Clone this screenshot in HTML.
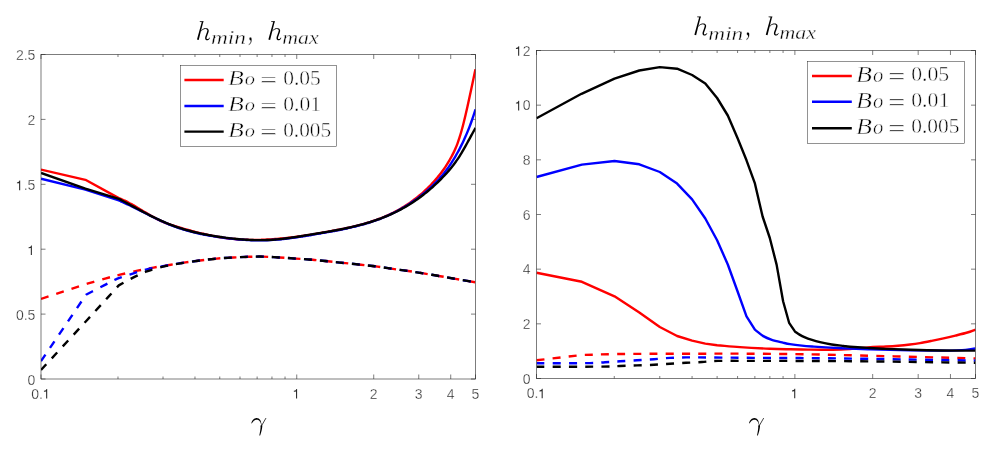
<!DOCTYPE html>
<html><head><meta charset="utf-8"><style>
html,body{margin:0;padding:0;background:#fff;}
body{width:1006px;height:449px;overflow:hidden;font-family:"Liberation Sans",sans-serif;}
svg{display:block;}
svg{will-change:transform;}
</style></head><body>
<svg width="1006" height="449" viewBox="0 0 1006 449">
<rect width="100%" height="100%" fill="#fff"/>
<defs>
<clipPath id="cl"><rect x="41.0" y="53.5" width="434.5" height="326.5"/></clipPath>
<clipPath id="cr"><rect x="536.5" y="49.5" width="439.0" height="330.0"/></clipPath>
</defs>
<line x1="41.0" y1="379.0" x2="41.0" y2="374.5" stroke="#262626" stroke-width="0.6"/>
<line x1="41.0" y1="54.5" x2="41.0" y2="59.0" stroke="#262626" stroke-width="0.6"/>
<line x1="296.74" y1="379.0" x2="296.74" y2="374.5" stroke="#262626" stroke-width="0.6"/>
<line x1="296.74" y1="54.5" x2="296.74" y2="59.0" stroke="#262626" stroke-width="0.6"/>
<line x1="373.73" y1="379.0" x2="373.73" y2="374.5" stroke="#262626" stroke-width="0.6"/>
<line x1="373.73" y1="54.5" x2="373.73" y2="59.0" stroke="#262626" stroke-width="0.6"/>
<line x1="418.76" y1="379.0" x2="418.76" y2="374.5" stroke="#262626" stroke-width="0.6"/>
<line x1="418.76" y1="54.5" x2="418.76" y2="59.0" stroke="#262626" stroke-width="0.6"/>
<line x1="450.72" y1="379.0" x2="450.72" y2="374.5" stroke="#262626" stroke-width="0.6"/>
<line x1="450.72" y1="54.5" x2="450.72" y2="59.0" stroke="#262626" stroke-width="0.6"/>
<line x1="475.5" y1="379.0" x2="475.5" y2="374.5" stroke="#262626" stroke-width="0.6"/>
<line x1="475.5" y1="54.5" x2="475.5" y2="59.0" stroke="#262626" stroke-width="0.6"/>
<line x1="117.99" y1="379.0" x2="117.99" y2="376.5" stroke="#262626" stroke-width="0.6"/>
<line x1="117.99" y1="54.5" x2="117.99" y2="57.0" stroke="#262626" stroke-width="0.6"/>
<line x1="163.02" y1="379.0" x2="163.02" y2="376.5" stroke="#262626" stroke-width="0.6"/>
<line x1="163.02" y1="54.5" x2="163.02" y2="57.0" stroke="#262626" stroke-width="0.6"/>
<line x1="194.97" y1="379.0" x2="194.97" y2="376.5" stroke="#262626" stroke-width="0.6"/>
<line x1="194.97" y1="54.5" x2="194.97" y2="57.0" stroke="#262626" stroke-width="0.6"/>
<line x1="219.76" y1="379.0" x2="219.76" y2="376.5" stroke="#262626" stroke-width="0.6"/>
<line x1="219.76" y1="54.5" x2="219.76" y2="57.0" stroke="#262626" stroke-width="0.6"/>
<line x1="240.01" y1="379.0" x2="240.01" y2="376.5" stroke="#262626" stroke-width="0.6"/>
<line x1="240.01" y1="54.5" x2="240.01" y2="57.0" stroke="#262626" stroke-width="0.6"/>
<line x1="257.13" y1="379.0" x2="257.13" y2="376.5" stroke="#262626" stroke-width="0.6"/>
<line x1="257.13" y1="54.5" x2="257.13" y2="57.0" stroke="#262626" stroke-width="0.6"/>
<line x1="271.96" y1="379.0" x2="271.96" y2="376.5" stroke="#262626" stroke-width="0.6"/>
<line x1="271.96" y1="54.5" x2="271.96" y2="57.0" stroke="#262626" stroke-width="0.6"/>
<line x1="285.04" y1="379.0" x2="285.04" y2="376.5" stroke="#262626" stroke-width="0.6"/>
<line x1="285.04" y1="54.5" x2="285.04" y2="57.0" stroke="#262626" stroke-width="0.6"/>
<line x1="41.0" y1="379.0" x2="45.5" y2="379.0" stroke="#262626" stroke-width="0.6"/>
<line x1="475.5" y1="379.0" x2="471.0" y2="379.0" stroke="#262626" stroke-width="0.6"/>
<line x1="41.0" y1="314.1" x2="45.5" y2="314.1" stroke="#262626" stroke-width="0.6"/>
<line x1="475.5" y1="314.1" x2="471.0" y2="314.1" stroke="#262626" stroke-width="0.6"/>
<line x1="41.0" y1="249.2" x2="45.5" y2="249.2" stroke="#262626" stroke-width="0.6"/>
<line x1="475.5" y1="249.2" x2="471.0" y2="249.2" stroke="#262626" stroke-width="0.6"/>
<line x1="41.0" y1="184.3" x2="45.5" y2="184.3" stroke="#262626" stroke-width="0.6"/>
<line x1="475.5" y1="184.3" x2="471.0" y2="184.3" stroke="#262626" stroke-width="0.6"/>
<line x1="41.0" y1="119.4" x2="45.5" y2="119.4" stroke="#262626" stroke-width="0.6"/>
<line x1="475.5" y1="119.4" x2="471.0" y2="119.4" stroke="#262626" stroke-width="0.6"/>
<line x1="41.0" y1="54.5" x2="45.5" y2="54.5" stroke="#262626" stroke-width="0.6"/>
<line x1="475.5" y1="54.5" x2="471.0" y2="54.5" stroke="#262626" stroke-width="0.6"/>
<line x1="536.5" y1="378.5" x2="536.5" y2="374.0" stroke="#262626" stroke-width="0.6"/>
<line x1="536.5" y1="50.5" x2="536.5" y2="55.0" stroke="#262626" stroke-width="0.6"/>
<line x1="794.89" y1="378.5" x2="794.89" y2="374.0" stroke="#262626" stroke-width="0.6"/>
<line x1="794.89" y1="50.5" x2="794.89" y2="55.0" stroke="#262626" stroke-width="0.6"/>
<line x1="872.68" y1="378.5" x2="872.68" y2="374.0" stroke="#262626" stroke-width="0.6"/>
<line x1="872.68" y1="50.5" x2="872.68" y2="55.0" stroke="#262626" stroke-width="0.6"/>
<line x1="918.18" y1="378.5" x2="918.18" y2="374.0" stroke="#262626" stroke-width="0.6"/>
<line x1="918.18" y1="50.5" x2="918.18" y2="55.0" stroke="#262626" stroke-width="0.6"/>
<line x1="950.46" y1="378.5" x2="950.46" y2="374.0" stroke="#262626" stroke-width="0.6"/>
<line x1="950.46" y1="50.5" x2="950.46" y2="55.0" stroke="#262626" stroke-width="0.6"/>
<line x1="975.5" y1="378.5" x2="975.5" y2="374.0" stroke="#262626" stroke-width="0.6"/>
<line x1="975.5" y1="50.5" x2="975.5" y2="55.0" stroke="#262626" stroke-width="0.6"/>
<line x1="614.28" y1="378.5" x2="614.28" y2="376.0" stroke="#262626" stroke-width="0.6"/>
<line x1="614.28" y1="50.5" x2="614.28" y2="53.0" stroke="#262626" stroke-width="0.6"/>
<line x1="659.78" y1="378.5" x2="659.78" y2="376.0" stroke="#262626" stroke-width="0.6"/>
<line x1="659.78" y1="50.5" x2="659.78" y2="53.0" stroke="#262626" stroke-width="0.6"/>
<line x1="692.07" y1="378.5" x2="692.07" y2="376.0" stroke="#262626" stroke-width="0.6"/>
<line x1="692.07" y1="50.5" x2="692.07" y2="53.0" stroke="#262626" stroke-width="0.6"/>
<line x1="717.11" y1="378.5" x2="717.11" y2="376.0" stroke="#262626" stroke-width="0.6"/>
<line x1="717.11" y1="50.5" x2="717.11" y2="53.0" stroke="#262626" stroke-width="0.6"/>
<line x1="737.57" y1="378.5" x2="737.57" y2="376.0" stroke="#262626" stroke-width="0.6"/>
<line x1="737.57" y1="50.5" x2="737.57" y2="53.0" stroke="#262626" stroke-width="0.6"/>
<line x1="754.87" y1="378.5" x2="754.87" y2="376.0" stroke="#262626" stroke-width="0.6"/>
<line x1="754.87" y1="50.5" x2="754.87" y2="53.0" stroke="#262626" stroke-width="0.6"/>
<line x1="769.85" y1="378.5" x2="769.85" y2="376.0" stroke="#262626" stroke-width="0.6"/>
<line x1="769.85" y1="50.5" x2="769.85" y2="53.0" stroke="#262626" stroke-width="0.6"/>
<line x1="783.07" y1="378.5" x2="783.07" y2="376.0" stroke="#262626" stroke-width="0.6"/>
<line x1="783.07" y1="50.5" x2="783.07" y2="53.0" stroke="#262626" stroke-width="0.6"/>
<line x1="536.5" y1="378.5" x2="541.0" y2="378.5" stroke="#262626" stroke-width="0.6"/>
<line x1="975.5" y1="378.5" x2="971.0" y2="378.5" stroke="#262626" stroke-width="0.6"/>
<line x1="536.5" y1="323.83" x2="541.0" y2="323.83" stroke="#262626" stroke-width="0.6"/>
<line x1="975.5" y1="323.83" x2="971.0" y2="323.83" stroke="#262626" stroke-width="0.6"/>
<line x1="536.5" y1="269.17" x2="541.0" y2="269.17" stroke="#262626" stroke-width="0.6"/>
<line x1="975.5" y1="269.17" x2="971.0" y2="269.17" stroke="#262626" stroke-width="0.6"/>
<line x1="536.5" y1="214.5" x2="541.0" y2="214.5" stroke="#262626" stroke-width="0.6"/>
<line x1="975.5" y1="214.5" x2="971.0" y2="214.5" stroke="#262626" stroke-width="0.6"/>
<line x1="536.5" y1="159.83" x2="541.0" y2="159.83" stroke="#262626" stroke-width="0.6"/>
<line x1="975.5" y1="159.83" x2="971.0" y2="159.83" stroke="#262626" stroke-width="0.6"/>
<line x1="536.5" y1="105.17" x2="541.0" y2="105.17" stroke="#262626" stroke-width="0.6"/>
<line x1="975.5" y1="105.17" x2="971.0" y2="105.17" stroke="#262626" stroke-width="0.6"/>
<line x1="536.5" y1="50.5" x2="541.0" y2="50.5" stroke="#262626" stroke-width="0.6"/>
<line x1="975.5" y1="50.5" x2="971.0" y2="50.5" stroke="#262626" stroke-width="0.6"/>
<path d="M41.00,169.60 L85.40,179.80 L118.80,198.12 C119.47,198.38 120.14,198.63 120.80,198.91 C121.47,199.18 122.14,199.47 122.81,199.77 C123.48,200.07 124.14,200.38 124.81,200.70 C125.48,201.02 126.15,201.35 126.82,201.69 C127.48,202.03 128.15,202.38 128.82,202.73 C129.49,203.09 130.16,203.45 130.82,203.82 C131.49,204.19 132.16,204.57 132.83,204.95 C133.50,205.33 134.16,205.71 134.83,206.10 C135.50,206.49 136.17,206.89 136.84,207.29 C137.50,207.68 138.17,208.08 138.84,208.49 C139.51,208.89 140.18,209.29 140.84,209.70 C141.51,210.10 142.18,210.51 142.85,210.91 C143.52,211.32 144.18,211.72 144.85,212.12 C145.52,212.53 146.19,212.93 146.86,213.33 C147.52,213.73 148.19,214.12 148.86,214.51 C149.53,214.90 150.19,215.29 150.86,215.68 C151.53,216.06 152.20,216.44 152.87,216.81 C153.53,217.18 154.20,217.55 154.87,217.90 C155.54,218.26 156.21,218.61 156.87,218.95 C157.54,219.30 158.21,219.63 158.88,219.96 C159.55,220.28 160.21,220.59 160.88,220.90 C161.55,221.20 162.22,221.50 162.89,221.78 C163.55,222.07 164.22,222.34 164.89,222.61 C165.56,222.88 166.23,223.14 166.89,223.39 C167.56,223.65 168.23,223.89 168.90,224.13 C169.57,224.37 170.23,224.60 170.90,224.83 C171.57,225.06 172.24,225.28 172.91,225.50 C173.57,225.72 174.24,225.93 174.91,226.14 C175.58,226.35 176.25,226.55 176.91,226.76 C177.58,226.96 178.25,227.16 178.92,227.36 C179.59,227.56 180.25,227.76 180.92,227.95 C181.59,228.15 182.26,228.34 182.93,228.54 C183.59,228.73 184.26,228.92 184.93,229.11 C185.60,229.30 186.27,229.49 186.93,229.67 C187.60,229.86 188.27,230.05 188.94,230.23 C189.61,230.41 190.27,230.59 190.94,230.77 C191.61,230.95 192.28,231.13 192.95,231.31 C193.61,231.48 194.28,231.66 194.95,231.83 C195.62,232.00 196.29,232.17 196.95,232.34 C197.62,232.51 198.29,232.67 198.96,232.84 C199.63,233.00 200.29,233.16 200.96,233.32 C201.63,233.48 202.30,233.64 202.97,233.79 C203.63,233.95 204.30,234.10 204.97,234.25 C205.64,234.40 206.31,234.55 206.97,234.69 C207.64,234.84 208.31,234.98 208.98,235.12 C209.64,235.26 210.31,235.39 210.98,235.53 C211.65,235.66 212.32,235.80 212.98,235.92 C213.65,236.05 214.32,236.18 214.99,236.30 C215.66,236.43 216.32,236.55 216.99,236.67 C217.66,236.78 218.33,236.90 219.00,237.01 C219.66,237.12 220.33,237.23 221.00,237.34 C221.67,237.44 222.34,237.54 223.00,237.64 C223.67,237.74 224.34,237.84 225.01,237.93 C225.68,238.02 226.34,238.11 227.01,238.20 C227.68,238.29 228.35,238.37 229.02,238.45 C229.68,238.53 230.35,238.60 231.02,238.67 C231.69,238.75 232.36,238.82 233.02,238.88 C233.69,238.95 234.36,239.01 235.03,239.07 C235.70,239.13 236.36,239.18 237.03,239.23 C237.70,239.29 238.37,239.33 239.04,239.38 C239.70,239.42 240.37,239.47 241.04,239.51 C241.71,239.55 242.38,239.58 243.04,239.61 C243.71,239.65 244.38,239.68 245.05,239.70 C245.72,239.73 246.38,239.75 247.05,239.77 C247.72,239.80 248.39,239.81 249.06,239.83 C249.72,239.84 250.39,239.85 251.06,239.86 C251.73,239.87 252.40,239.88 253.06,239.88 C253.73,239.88 254.40,239.89 255.07,239.88 C255.74,239.88 256.40,239.88 257.07,239.87 C257.74,239.86 258.41,239.85 259.08,239.84 C259.74,239.82 260.41,239.81 261.08,239.79 C261.75,239.77 262.42,239.75 263.08,239.73 C263.75,239.71 264.42,239.68 265.09,239.65 C265.76,239.62 266.42,239.59 267.09,239.56 C267.76,239.53 268.43,239.49 269.09,239.46 C269.76,239.42 270.43,239.38 271.10,239.34 C271.77,239.29 272.43,239.25 273.10,239.20 C273.77,239.16 274.44,239.11 275.11,239.06 C275.77,239.01 276.44,238.95 277.11,238.90 C277.78,238.84 278.45,238.78 279.11,238.73 C279.78,238.67 280.45,238.61 281.12,238.54 C281.79,238.48 282.45,238.41 283.12,238.35 C283.79,238.28 284.46,238.21 285.13,238.14 C285.79,238.07 286.46,238.00 287.13,237.92 C287.80,237.85 288.47,237.77 289.13,237.70 C289.80,237.62 290.47,237.54 291.14,237.46 C291.81,237.38 292.47,237.29 293.14,237.21 C293.81,237.12 294.48,237.04 295.15,236.95 C295.81,236.86 296.48,236.77 297.15,236.68 C297.82,236.59 298.49,236.50 299.15,236.41 C299.82,236.32 300.49,236.22 301.16,236.13 C301.83,236.03 302.49,235.93 303.16,235.83 C303.83,235.73 304.50,235.63 305.17,235.53 C305.83,235.43 306.50,235.33 307.17,235.23 C307.84,235.12 308.51,235.02 309.17,234.91 C309.84,234.81 310.51,234.70 311.18,234.59 C311.85,234.49 312.51,234.38 313.18,234.27 C313.85,234.16 314.52,234.05 315.19,233.93 C315.85,233.82 316.52,233.71 317.19,233.60 C317.86,233.48 318.53,233.37 319.19,233.25 C319.86,233.14 320.53,233.02 321.20,232.91 C321.87,232.79 322.53,232.67 323.20,232.55 C323.87,232.44 324.54,232.32 325.21,232.20 C325.87,232.08 326.54,231.96 327.21,231.84 C327.88,231.72 328.54,231.60 329.21,231.48 C329.88,231.35 330.55,231.23 331.22,231.11 C331.88,230.99 332.55,230.86 333.22,230.74 C333.89,230.62 334.56,230.49 335.22,230.37 C335.89,230.24 336.56,230.12 337.23,229.99 C337.90,229.86 338.56,229.73 339.23,229.60 C339.90,229.47 340.57,229.34 341.24,229.21 C341.90,229.08 342.57,228.94 343.24,228.81 C343.91,228.67 344.58,228.53 345.24,228.39 C345.91,228.25 346.58,228.11 347.25,227.97 C347.92,227.83 348.58,227.68 349.25,227.53 C349.92,227.39 350.59,227.24 351.26,227.09 C351.92,226.93 352.59,226.78 353.26,226.62 C353.93,226.47 354.60,226.31 355.26,226.15 C355.93,225.98 356.60,225.82 357.27,225.65 C357.94,225.48 358.60,225.31 359.27,225.14 C359.94,224.97 360.61,224.79 361.28,224.61 C361.94,224.43 362.61,224.25 363.28,224.06 C363.95,223.87 364.62,223.68 365.28,223.49 C365.95,223.30 366.62,223.10 367.29,222.90 C367.96,222.70 368.62,222.49 369.29,222.28 C369.96,222.07 370.63,221.86 371.30,221.64 C371.96,221.43 372.63,221.21 373.30,220.98 C373.97,220.75 374.64,220.52 375.30,220.29 C375.97,220.06 376.64,219.82 377.31,219.57 C377.98,219.33 378.64,219.08 379.31,218.83 C379.98,218.57 380.65,218.32 381.32,218.05 C381.98,217.79 382.65,217.52 383.32,217.25 C383.99,216.97 384.66,216.69 385.32,216.41 C385.99,216.12 386.66,215.83 387.33,215.54 C387.99,215.24 388.66,214.94 389.33,214.63 C390.00,214.32 390.67,214.01 391.33,213.68 C392.00,213.36 392.67,213.03 393.34,212.70 C394.01,212.36 394.67,212.02 395.34,211.67 C396.01,211.33 396.68,210.97 397.35,210.61 C398.01,210.24 398.68,209.87 399.35,209.49 C400.02,209.11 400.69,208.73 401.35,208.33 C402.02,207.94 402.69,207.54 403.36,207.13 C404.03,206.72 404.69,206.30 405.36,205.87 C406.03,205.44 406.70,205.01 407.37,204.56 C408.03,204.12 408.70,203.67 409.37,203.20 C410.04,202.74 410.71,202.27 411.37,201.79 C412.04,201.31 412.71,200.82 413.38,200.32 C414.05,199.82 414.71,199.31 415.38,198.79 C416.05,198.27 416.72,197.74 417.39,197.20 C418.05,196.66 418.72,196.11 419.39,195.55 C420.06,194.99 420.73,194.42 421.39,193.83 C422.06,193.25 422.73,192.66 423.40,192.06 C424.07,191.45 424.73,190.84 425.40,190.21 C426.07,189.58 426.74,188.95 427.41,188.30 C428.07,187.65 428.74,186.99 429.41,186.31 C430.08,185.64 430.75,184.96 431.41,184.26 C432.08,183.56 432.75,182.85 433.42,182.13 C434.09,181.40 434.75,180.66 435.42,179.90 C436.09,179.14 436.76,178.37 437.43,177.57 C438.09,176.77 438.76,175.95 439.43,175.10 C440.10,174.26 440.77,173.39 441.43,172.50 C442.10,171.60 442.77,170.68 443.44,169.73 C444.11,168.78 444.77,167.80 445.44,166.79 C446.11,165.78 446.78,164.74 447.44,163.66 C448.11,162.57 448.78,161.46 449.45,160.31 C450.12,159.16 450.78,157.98 451.45,156.74 C452.12,155.50 452.79,154.24 453.46,152.87 C454.12,151.50 454.79,150.09 455.46,148.53 C456.13,146.98 456.80,145.35 457.46,143.55 C458.13,141.75 458.80,139.82 459.47,137.73 C460.14,135.64 460.80,133.38 461.47,131.01 C462.14,128.63 462.81,126.11 463.48,123.49 C464.14,120.87 464.81,118.11 465.48,115.29 C466.15,112.46 466.82,109.52 467.48,106.53 C468.15,103.54 468.82,100.45 469.49,97.35 C470.16,94.25 470.82,91.08 471.49,87.93 C472.16,84.78 472.83,81.60 473.50,78.47 C474.16,75.34 474.83,72.27 475.50,69.17" fill="none" stroke="#ff0000" stroke-width="2.4" stroke-linejoin="round" stroke-linecap="butt" clip-path="url(#cl)"/>
<path d="M41.00,178.70 L85.40,189.70 L118.80,200.46 C119.47,200.75 120.14,201.03 120.80,201.33 C121.47,201.62 122.14,201.92 122.81,202.22 C123.48,202.52 124.14,202.82 124.81,203.13 C125.48,203.44 126.15,203.75 126.82,204.06 C127.48,204.38 128.15,204.69 128.82,205.01 C129.49,205.33 130.16,205.65 130.82,205.98 C131.49,206.30 132.16,206.63 132.83,206.96 C133.50,207.29 134.16,207.62 134.83,207.95 C135.50,208.28 136.17,208.61 136.84,208.95 C137.50,209.28 138.17,209.62 138.84,209.95 C139.51,210.29 140.18,210.63 140.84,210.97 C141.51,211.30 142.18,211.64 142.85,211.98 C143.52,212.31 144.18,212.65 144.85,212.99 C145.52,213.33 146.19,213.66 146.86,214.00 C147.52,214.33 148.19,214.67 148.86,215.00 C149.53,215.34 150.19,215.67 150.86,216.00 C151.53,216.33 152.20,216.66 152.87,216.99 C153.53,217.32 154.20,217.64 154.87,217.97 C155.54,218.29 156.21,218.61 156.87,218.93 C157.54,219.25 158.21,219.56 158.88,219.88 C159.55,220.19 160.21,220.50 160.88,220.81 C161.55,221.11 162.22,221.42 162.89,221.71 C163.55,222.01 164.22,222.31 164.89,222.60 C165.56,222.89 166.23,223.18 166.89,223.46 C167.56,223.74 168.23,224.02 168.90,224.29 C169.57,224.57 170.23,224.83 170.90,225.10 C171.57,225.36 172.24,225.62 172.91,225.87 C173.57,226.12 174.24,226.37 174.91,226.61 C175.58,226.86 176.25,227.10 176.91,227.33 C177.58,227.56 178.25,227.79 178.92,228.02 C179.59,228.24 180.25,228.46 180.92,228.68 C181.59,228.89 182.26,229.10 182.93,229.31 C183.59,229.52 184.26,229.72 184.93,229.92 C185.60,230.12 186.27,230.31 186.93,230.50 C187.60,230.69 188.27,230.88 188.94,231.06 C189.61,231.24 190.27,231.42 190.94,231.59 C191.61,231.77 192.28,231.94 192.95,232.11 C193.61,232.28 194.28,232.44 194.95,232.60 C195.62,232.76 196.29,232.92 196.95,233.07 C197.62,233.23 198.29,233.38 198.96,233.52 C199.63,233.67 200.29,233.81 200.96,233.96 C201.63,234.10 202.30,234.23 202.97,234.37 C203.63,234.50 204.30,234.64 204.97,234.77 C205.64,234.90 206.31,235.02 206.97,235.15 C207.64,235.27 208.31,235.39 208.98,235.51 C209.64,235.63 210.31,235.75 210.98,235.86 C211.65,235.97 212.32,236.08 212.98,236.19 C213.65,236.30 214.32,236.41 214.99,236.52 C215.66,236.62 216.32,236.72 216.99,236.82 C217.66,236.93 218.33,237.02 219.00,237.12 C219.66,237.22 220.33,237.31 221.00,237.41 C221.67,237.50 222.34,237.59 223.00,237.68 C223.67,237.77 224.34,237.86 225.01,237.95 C225.68,238.03 226.34,238.12 227.01,238.20 C227.68,238.28 228.35,238.36 229.02,238.44 C229.68,238.52 230.35,238.59 231.02,238.67 C231.69,238.74 232.36,238.81 233.02,238.88 C233.69,238.95 234.36,239.02 235.03,239.08 C235.70,239.15 236.36,239.21 237.03,239.27 C237.70,239.33 238.37,239.39 239.04,239.45 C239.70,239.50 240.37,239.56 241.04,239.61 C241.71,239.66 242.38,239.71 243.04,239.75 C243.71,239.80 244.38,239.84 245.05,239.88 C245.72,239.93 246.38,239.96 247.05,240.00 C247.72,240.04 248.39,240.07 249.06,240.10 C249.72,240.13 250.39,240.16 251.06,240.18 C251.73,240.21 252.40,240.23 253.06,240.25 C253.73,240.27 254.40,240.28 255.07,240.30 C255.74,240.31 256.40,240.32 257.07,240.33 C257.74,240.34 258.41,240.34 259.08,240.34 C259.74,240.35 260.41,240.34 261.08,240.34 C261.75,240.34 262.42,240.33 263.08,240.32 C263.75,240.31 264.42,240.29 265.09,240.28 C265.76,240.26 266.42,240.24 267.09,240.22 C267.76,240.19 268.43,240.17 269.09,240.14 C269.76,240.11 270.43,240.07 271.10,240.03 C271.77,240.00 272.43,239.96 273.10,239.91 C273.77,239.87 274.44,239.82 275.11,239.77 C275.77,239.73 276.44,239.67 277.11,239.62 C277.78,239.56 278.45,239.50 279.11,239.44 C279.78,239.38 280.45,239.32 281.12,239.25 C281.79,239.18 282.45,239.11 283.12,239.04 C283.79,238.97 284.46,238.90 285.13,238.82 C285.79,238.74 286.46,238.67 287.13,238.58 C287.80,238.50 288.47,238.42 289.13,238.34 C289.80,238.25 290.47,238.16 291.14,238.07 C291.81,237.98 292.47,237.89 293.14,237.80 C293.81,237.71 294.48,237.61 295.15,237.52 C295.81,237.42 296.48,237.32 297.15,237.22 C297.82,237.12 298.49,237.02 299.15,236.92 C299.82,236.82 300.49,236.71 301.16,236.61 C301.83,236.50 302.49,236.40 303.16,236.29 C303.83,236.18 304.50,236.07 305.17,235.96 C305.83,235.85 306.50,235.74 307.17,235.63 C307.84,235.52 308.51,235.41 309.17,235.29 C309.84,235.18 310.51,235.07 311.18,234.95 C311.85,234.84 312.51,234.72 313.18,234.61 C313.85,234.49 314.52,234.38 315.19,234.26 C315.85,234.15 316.52,234.03 317.19,233.91 C317.86,233.80 318.53,233.68 319.19,233.57 C319.86,233.45 320.53,233.33 321.20,233.22 C321.87,233.10 322.53,232.98 323.20,232.87 C323.87,232.75 324.54,232.63 325.21,232.52 C325.87,232.40 326.54,232.28 327.21,232.16 C327.88,232.05 328.54,231.93 329.21,231.81 C329.88,231.69 330.55,231.57 331.22,231.45 C331.88,231.33 332.55,231.21 333.22,231.08 C333.89,230.96 334.56,230.84 335.22,230.71 C335.89,230.59 336.56,230.46 337.23,230.33 C337.90,230.21 338.56,230.08 339.23,229.95 C339.90,229.82 340.57,229.69 341.24,229.55 C341.90,229.42 342.57,229.28 343.24,229.15 C343.91,229.01 344.58,228.87 345.24,228.73 C345.91,228.59 346.58,228.45 347.25,228.30 C347.92,228.16 348.58,228.01 349.25,227.86 C349.92,227.71 350.59,227.56 351.26,227.41 C351.92,227.26 352.59,227.10 353.26,226.94 C353.93,226.78 354.60,226.62 355.26,226.46 C355.93,226.29 356.60,226.12 357.27,225.95 C357.94,225.78 358.60,225.61 359.27,225.44 C359.94,225.26 360.61,225.08 361.28,224.90 C361.94,224.72 362.61,224.53 363.28,224.34 C363.95,224.15 364.62,223.96 365.28,223.76 C365.95,223.57 366.62,223.37 367.29,223.17 C367.96,222.96 368.62,222.76 369.29,222.54 C369.96,222.33 370.63,222.12 371.30,221.90 C371.96,221.68 372.63,221.46 373.30,221.23 C373.97,221.00 374.64,220.77 375.30,220.54 C375.97,220.30 376.64,220.06 377.31,219.82 C377.98,219.57 378.64,219.32 379.31,219.07 C379.98,218.81 380.65,218.56 381.32,218.29 C381.98,218.03 382.65,217.76 383.32,217.49 C383.99,217.21 384.66,216.94 385.32,216.65 C385.99,216.37 386.66,216.08 387.33,215.79 C387.99,215.49 388.66,215.19 389.33,214.89 C390.00,214.58 390.67,214.27 391.33,213.96 C392.00,213.64 392.67,213.32 393.34,212.99 C394.01,212.66 394.67,212.33 395.34,211.99 C396.01,211.65 396.68,211.31 397.35,210.95 C398.01,210.60 398.68,210.25 399.35,209.88 C400.02,209.52 400.69,209.15 401.35,208.77 C402.02,208.39 402.69,208.01 403.36,207.62 C404.03,207.23 404.69,206.84 405.36,206.43 C406.03,206.03 406.70,205.62 407.37,205.20 C408.03,204.79 408.70,204.36 409.37,203.93 C410.04,203.50 410.71,203.06 411.37,202.62 C412.04,202.17 412.71,201.72 413.38,201.26 C414.05,200.80 414.71,200.33 415.38,199.86 C416.05,199.38 416.72,198.90 417.39,198.41 C418.05,197.92 418.72,197.42 419.39,196.91 C420.06,196.41 420.73,195.89 421.39,195.37 C422.06,194.85 422.73,194.32 423.40,193.78 C424.07,193.24 424.73,192.70 425.40,192.14 C426.07,191.59 426.74,191.02 427.41,190.45 C428.07,189.87 428.74,189.29 429.41,188.69 C430.08,188.09 430.75,187.49 431.41,186.86 C432.08,186.24 432.75,185.61 433.42,184.96 C434.09,184.31 434.75,183.65 435.42,182.96 C436.09,182.28 436.76,181.59 437.43,180.87 C438.09,180.16 438.76,179.43 439.43,178.68 C440.10,177.93 440.77,177.16 441.43,176.37 C442.10,175.58 442.77,174.77 443.44,173.94 C444.11,173.11 444.77,172.25 445.44,171.38 C446.11,170.50 446.78,169.60 447.44,168.68 C448.11,167.75 448.78,166.80 449.45,165.83 C450.12,164.85 450.78,163.85 451.45,162.82 C452.12,161.79 452.79,160.74 453.46,159.65 C454.12,158.57 454.79,157.46 455.46,156.31 C456.13,155.17 456.80,153.99 457.46,152.79 C458.13,151.58 458.80,150.35 459.47,149.07 C460.14,147.80 460.80,146.50 461.47,145.16 C462.14,143.81 462.81,142.44 463.48,141.01 C464.14,139.59 464.81,138.12 465.48,136.60 C466.15,135.08 466.82,133.52 467.48,131.90 C468.15,130.27 468.82,128.60 469.49,126.86 C470.16,125.12 470.82,123.33 471.49,121.47 C472.16,119.60 472.83,117.68 473.50,115.67 C474.16,113.67 474.83,111.52 475.50,109.45" fill="none" stroke="#0000ff" stroke-width="2.4" stroke-linejoin="round" stroke-linecap="butt" clip-path="url(#cl)"/>
<path d="M41.00,173.00 L85.40,188.70 L118.80,198.84 C119.47,199.19 120.14,199.54 120.80,199.90 C121.47,200.25 122.14,200.60 122.81,200.96 C123.48,201.32 124.14,201.67 124.81,202.03 C125.48,202.39 126.15,202.74 126.82,203.10 C127.48,203.46 128.15,203.82 128.82,204.18 C129.49,204.54 130.16,204.90 130.82,205.26 C131.49,205.62 132.16,205.98 132.83,206.34 C133.50,206.70 134.16,207.06 134.83,207.42 C135.50,207.78 136.17,208.14 136.84,208.49 C137.50,208.85 138.17,209.21 138.84,209.56 C139.51,209.92 140.18,210.28 140.84,210.63 C141.51,210.98 142.18,211.34 142.85,211.69 C143.52,212.04 144.18,212.39 144.85,212.74 C145.52,213.08 146.19,213.43 146.86,213.77 C147.52,214.12 148.19,214.46 148.86,214.80 C149.53,215.14 150.19,215.48 150.86,215.81 C151.53,216.15 152.20,216.48 152.87,216.81 C153.53,217.14 154.20,217.46 154.87,217.79 C155.54,218.11 156.21,218.43 156.87,218.75 C157.54,219.07 158.21,219.38 158.88,219.69 C159.55,220.00 160.21,220.31 160.88,220.61 C161.55,220.91 162.22,221.21 162.89,221.51 C163.55,221.80 164.22,222.10 164.89,222.38 C165.56,222.67 166.23,222.95 166.89,223.23 C167.56,223.51 168.23,223.78 168.90,224.05 C169.57,224.31 170.23,224.58 170.90,224.84 C171.57,225.09 172.24,225.35 172.91,225.60 C173.57,225.84 174.24,226.09 174.91,226.33 C175.58,226.57 176.25,226.80 176.91,227.03 C177.58,227.26 178.25,227.49 178.92,227.71 C179.59,227.93 180.25,228.14 180.92,228.36 C181.59,228.57 182.26,228.78 182.93,228.98 C183.59,229.18 184.26,229.38 184.93,229.58 C185.60,229.77 186.27,229.97 186.93,230.15 C187.60,230.34 188.27,230.52 188.94,230.71 C189.61,230.89 190.27,231.06 190.94,231.23 C191.61,231.41 192.28,231.58 192.95,231.74 C193.61,231.91 194.28,232.07 194.95,232.23 C195.62,232.39 196.29,232.55 196.95,232.70 C197.62,232.85 198.29,233.00 198.96,233.15 C199.63,233.29 200.29,233.44 200.96,233.58 C201.63,233.72 202.30,233.86 202.97,233.99 C203.63,234.13 204.30,234.26 204.97,234.39 C205.64,234.52 206.31,234.64 206.97,234.77 C207.64,234.89 208.31,235.01 208.98,235.13 C209.64,235.25 210.31,235.37 210.98,235.49 C211.65,235.60 212.32,235.71 212.98,235.82 C213.65,235.93 214.32,236.04 214.99,236.15 C215.66,236.26 216.32,236.36 216.99,236.46 C217.66,236.57 218.33,236.67 219.00,236.77 C219.66,236.87 220.33,236.97 221.00,237.06 C221.67,237.16 222.34,237.25 223.00,237.35 C223.67,237.44 224.34,237.53 225.01,237.62 C225.68,237.71 226.34,237.80 227.01,237.88 C227.68,237.97 228.35,238.05 229.02,238.13 C229.68,238.22 230.35,238.30 231.02,238.37 C231.69,238.45 232.36,238.53 233.02,238.60 C233.69,238.67 234.36,238.75 235.03,238.81 C235.70,238.88 236.36,238.95 237.03,239.02 C237.70,239.08 238.37,239.14 239.04,239.20 C239.70,239.26 240.37,239.32 241.04,239.37 C241.71,239.43 242.38,239.48 243.04,239.53 C243.71,239.58 244.38,239.63 245.05,239.67 C245.72,239.71 246.38,239.76 247.05,239.79 C247.72,239.83 248.39,239.87 249.06,239.90 C249.72,239.94 250.39,239.97 251.06,239.99 C251.73,240.02 252.40,240.04 253.06,240.07 C253.73,240.09 254.40,240.10 255.07,240.12 C255.74,240.13 256.40,240.15 257.07,240.15 C257.74,240.16 258.41,240.17 259.08,240.17 C259.74,240.17 260.41,240.17 261.08,240.17 C261.75,240.16 262.42,240.15 263.08,240.14 C263.75,240.13 264.42,240.11 265.09,240.10 C265.76,240.08 266.42,240.05 267.09,240.03 C267.76,240.00 268.43,239.97 269.09,239.94 C269.76,239.91 270.43,239.87 271.10,239.83 C271.77,239.79 272.43,239.74 273.10,239.69 C273.77,239.64 274.44,239.59 275.11,239.54 C275.77,239.48 276.44,239.42 277.11,239.36 C277.78,239.30 278.45,239.24 279.11,239.17 C279.78,239.10 280.45,239.03 281.12,238.96 C281.79,238.88 282.45,238.81 283.12,238.73 C283.79,238.65 284.46,238.57 285.13,238.49 C285.79,238.40 286.46,238.32 287.13,238.23 C287.80,238.14 288.47,238.05 289.13,237.96 C289.80,237.87 290.47,237.77 291.14,237.68 C291.81,237.58 292.47,237.49 293.14,237.39 C293.81,237.29 294.48,237.19 295.15,237.09 C295.81,236.99 296.48,236.88 297.15,236.78 C297.82,236.68 298.49,236.57 299.15,236.47 C299.82,236.36 300.49,236.25 301.16,236.15 C301.83,236.04 302.49,235.93 303.16,235.82 C303.83,235.71 304.50,235.61 305.17,235.50 C305.83,235.39 306.50,235.28 307.17,235.17 C307.84,235.06 308.51,234.95 309.17,234.84 C309.84,234.73 310.51,234.62 311.18,234.51 C311.85,234.40 312.51,234.29 313.18,234.18 C313.85,234.07 314.52,233.96 315.19,233.85 C315.85,233.74 316.52,233.63 317.19,233.52 C317.86,233.41 318.53,233.30 319.19,233.19 C319.86,233.08 320.53,232.97 321.20,232.86 C321.87,232.75 322.53,232.64 323.20,232.52 C323.87,232.41 324.54,232.30 325.21,232.18 C325.87,232.07 326.54,231.96 327.21,231.84 C327.88,231.72 328.54,231.61 329.21,231.49 C329.88,231.37 330.55,231.26 331.22,231.14 C331.88,231.02 332.55,230.90 333.22,230.78 C333.89,230.65 334.56,230.53 335.22,230.41 C335.89,230.28 336.56,230.16 337.23,230.03 C337.90,229.90 338.56,229.78 339.23,229.65 C339.90,229.52 340.57,229.39 341.24,229.25 C341.90,229.12 342.57,228.99 343.24,228.85 C343.91,228.71 344.58,228.57 345.24,228.43 C345.91,228.29 346.58,228.15 347.25,228.01 C347.92,227.86 348.58,227.72 349.25,227.57 C349.92,227.42 350.59,227.27 351.26,227.12 C351.92,226.96 352.59,226.81 353.26,226.65 C353.93,226.49 354.60,226.33 355.26,226.17 C355.93,226.01 356.60,225.85 357.27,225.68 C357.94,225.51 358.60,225.34 359.27,225.17 C359.94,224.99 360.61,224.82 361.28,224.64 C361.94,224.46 362.61,224.28 363.28,224.10 C363.95,223.91 364.62,223.72 365.28,223.53 C365.95,223.34 366.62,223.15 367.29,222.95 C367.96,222.75 368.62,222.55 369.29,222.35 C369.96,222.15 370.63,221.94 371.30,221.73 C371.96,221.51 372.63,221.30 373.30,221.08 C373.97,220.86 374.64,220.64 375.30,220.41 C375.97,220.18 376.64,219.95 377.31,219.72 C377.98,219.48 378.64,219.24 379.31,219.00 C379.98,218.75 380.65,218.51 381.32,218.25 C381.98,218.00 382.65,217.74 383.32,217.48 C383.99,217.22 384.66,216.95 385.32,216.68 C385.99,216.41 386.66,216.13 387.33,215.85 C387.99,215.57 388.66,215.28 389.33,214.99 C390.00,214.69 390.67,214.40 391.33,214.09 C392.00,213.79 392.67,213.48 393.34,213.17 C394.01,212.86 394.67,212.54 395.34,212.21 C396.01,211.89 396.68,211.56 397.35,211.22 C398.01,210.88 398.68,210.54 399.35,210.19 C400.02,209.84 400.69,209.49 401.35,209.13 C402.02,208.77 402.69,208.40 403.36,208.03 C404.03,207.65 404.69,207.27 405.36,206.89 C406.03,206.50 406.70,206.11 407.37,205.71 C408.03,205.31 408.70,204.90 409.37,204.49 C410.04,204.07 410.71,203.65 411.37,203.23 C412.04,202.80 412.71,202.36 413.38,201.92 C414.05,201.48 414.71,201.03 415.38,200.58 C416.05,200.12 416.72,199.66 417.39,199.18 C418.05,198.71 418.72,198.23 419.39,197.75 C420.06,197.26 420.73,196.77 421.39,196.26 C422.06,195.76 422.73,195.25 423.40,194.73 C424.07,194.21 424.73,193.69 425.40,193.15 C426.07,192.62 426.74,192.07 427.41,191.52 C428.07,190.97 428.74,190.41 429.41,189.84 C430.08,189.27 430.75,188.69 431.41,188.10 C432.08,187.52 432.75,186.92 433.42,186.31 C434.09,185.71 434.75,185.09 435.42,184.47 C436.09,183.85 436.76,183.21 437.43,182.57 C438.09,181.93 438.76,181.27 439.43,180.61 C440.10,179.95 440.77,179.28 441.43,178.60 C442.10,177.92 442.77,177.22 443.44,176.52 C444.11,175.82 444.77,175.11 445.44,174.39 C446.11,173.66 446.78,172.93 447.44,172.18 C448.11,171.42 448.78,170.66 449.45,169.88 C450.12,169.09 450.78,168.29 451.45,167.46 C452.12,166.64 452.79,165.79 453.46,164.92 C454.12,164.04 454.79,163.15 455.46,162.22 C456.13,161.29 456.80,160.34 457.46,159.35 C458.13,158.36 458.80,157.35 459.47,156.29 C460.14,155.24 460.80,154.15 461.47,153.05 C462.14,151.94 462.81,150.80 463.48,149.64 C464.14,148.48 464.81,147.30 465.48,146.11 C466.15,144.92 466.82,143.71 467.48,142.50 C468.15,141.28 468.82,140.05 469.49,138.83 C470.16,137.60 470.82,136.37 471.49,135.15 C472.16,133.93 472.83,132.70 473.50,131.50 C474.16,130.30 474.83,129.13 475.50,127.94" fill="none" stroke="#000000" stroke-width="2.4" stroke-linejoin="round" stroke-linecap="butt" clip-path="url(#cl)"/>
<path d="M41.00,298.90 L87.30,283.70 C93.53,281.90 100.53,279.80 106.00,278.30 C111.47,276.80 114.85,275.97 120.10,274.70 C125.35,273.43 131.93,271.88 137.50,270.70 C143.07,269.52 147.93,268.60 153.50,267.60 C159.07,266.60 165.55,265.57 170.90,264.70 C176.25,263.83 180.75,263.10 185.60,262.40 C190.45,261.70 194.82,261.13 200.00,260.50 C205.18,259.87 211.13,259.10 216.70,258.60 C222.27,258.10 228.07,257.80 233.40,257.50 C238.73,257.20 243.83,256.95 248.70,256.80 C253.57,256.65 257.50,256.48 262.60,256.60 C267.70,256.72 273.73,257.17 279.30,257.50 C284.87,257.83 290.43,258.22 296.00,258.60 C301.57,258.98 307.37,259.35 312.70,259.80 C318.03,260.25 323.45,260.83 328.00,261.30 C332.55,261.77 334.52,262.03 340.00,262.60 C345.48,263.17 354.63,264.03 360.90,264.70 C367.17,265.37 372.27,265.90 377.60,266.60 C382.93,267.30 387.80,268.17 392.90,268.90 C398.00,269.63 403.10,270.25 408.20,271.00 C413.30,271.75 418.17,272.53 423.50,273.40 C428.83,274.27 434.87,275.28 440.20,276.20 C445.53,277.12 449.62,277.88 455.50,278.90 C461.38,279.92 468.83,281.17 475.50,282.30" fill="none" stroke="#ff0000" stroke-width="2.4" stroke-linejoin="round" stroke-linecap="butt" stroke-dasharray="7.92 8.12" stroke-dashoffset="0.0" clip-path="url(#cl)"/>
<path d="M41.00,361.20 L86.00,294.80 C92.00,291.67 98.77,288.08 104.00,285.40 C109.23,282.72 112.72,280.63 117.40,278.70 C122.08,276.77 127.20,275.35 132.10,273.80 C137.00,272.25 141.67,270.65 146.80,269.40 C151.93,268.15 157.33,267.33 162.90,266.30 C168.47,265.27 174.02,264.17 180.20,263.20 C186.38,262.23 193.92,261.27 200.00,260.50 C206.08,259.73 211.13,259.10 216.70,258.60 C222.27,258.10 228.07,257.80 233.40,257.50 C238.73,257.20 243.83,256.95 248.70,256.80 C253.57,256.65 257.50,256.48 262.60,256.60 C267.70,256.72 273.73,257.17 279.30,257.50 C284.87,257.83 290.43,258.22 296.00,258.60 C301.57,258.98 307.37,259.35 312.70,259.80 C318.03,260.25 323.45,260.83 328.00,261.30 C332.55,261.77 334.52,262.03 340.00,262.60 C345.48,263.17 354.63,264.03 360.90,264.70 C367.17,265.37 372.27,265.90 377.60,266.60 C382.93,267.30 387.80,268.17 392.90,268.90 C398.00,269.63 403.10,270.25 408.20,271.00 C413.30,271.75 418.17,272.53 423.50,273.40 C428.83,274.27 434.87,275.28 440.20,276.20 C445.53,277.12 449.62,277.88 455.50,278.90 C461.38,279.92 468.83,281.17 475.50,282.30" fill="none" stroke="#0000ff" stroke-width="2.4" stroke-linejoin="round" stroke-linecap="butt" stroke-dasharray="7.92 8.12" stroke-dashoffset="0.0" clip-path="url(#cl)"/>
<path d="M41.00,370.00 C56.00,353.73 73.03,335.30 86.00,321.20 C98.97,307.10 107.87,297.33 118.80,285.40 C123.70,282.73 128.83,279.73 133.50,277.40 C138.17,275.07 141.90,273.18 146.80,271.40 C151.70,269.62 157.33,268.03 162.90,266.70 C168.47,265.37 174.02,264.43 180.20,263.40 C186.38,262.37 193.92,261.30 200.00,260.50 C206.08,259.70 211.13,259.10 216.70,258.60 C222.27,258.10 228.07,257.80 233.40,257.50 C238.73,257.20 243.83,256.95 248.70,256.80 C253.57,256.65 257.50,256.48 262.60,256.60 C267.70,256.72 273.73,257.17 279.30,257.50 C284.87,257.83 290.43,258.22 296.00,258.60 C301.57,258.98 307.37,259.35 312.70,259.80 C318.03,260.25 323.45,260.83 328.00,261.30 C332.55,261.77 334.52,262.03 340.00,262.60 C345.48,263.17 354.63,264.03 360.90,264.70 C367.17,265.37 372.27,265.90 377.60,266.60 C382.93,267.30 387.80,268.17 392.90,268.90 C398.00,269.63 403.10,270.25 408.20,271.00 C413.30,271.75 418.17,272.53 423.50,273.40 C428.83,274.27 434.87,275.28 440.20,276.20 C445.53,277.12 449.62,277.88 455.50,278.90 C461.38,279.92 468.83,281.17 475.50,282.30" fill="none" stroke="#000000" stroke-width="2.4" stroke-linejoin="round" stroke-linecap="butt" stroke-dasharray="7.92 8.12" stroke-dashoffset="0.0" clip-path="url(#cl)"/>
<path d="M536.50,272.70 L581.90,281.80 L614.50,296.30 L639.30,312.50 L659.80,327.00 L677.10,336.00 L692.10,340.70 L705.30,343.60 L717.10,345.20 C724.73,345.83 731.23,346.52 740.00,347.10 C748.77,347.68 761.37,348.33 769.70,348.70 C778.03,349.07 783.62,349.15 790.00,349.30 C796.38,349.45 802.00,349.53 808.00,349.60 C814.00,349.67 819.83,349.77 826.00,349.70 C832.17,349.63 838.00,349.58 845.00,349.20 C852.00,348.82 861.17,347.85 868.00,347.40 C874.83,346.95 881.00,346.78 886.00,346.50 C891.00,346.22 894.00,346.03 898.00,345.70 C902.00,345.37 906.33,344.93 910.00,344.50 C913.67,344.07 916.40,343.70 920.00,343.10 C923.60,342.50 927.68,341.68 931.60,340.90 C935.52,340.12 939.53,339.28 943.50,338.40 C947.47,337.52 951.42,336.58 955.40,335.60 C959.38,334.62 964.05,333.50 967.40,332.50 C970.75,331.50 972.80,330.57 975.50,329.60" fill="none" stroke="#ff0000" stroke-width="2.4" stroke-linejoin="round" stroke-linecap="butt" clip-path="url(#cr)"/>
<path d="M536.50,177.00 L581.90,164.60 L614.50,161.00 L639.30,164.30 L659.80,172.00 L677.10,183.60 L692.10,199.40 L705.30,218.50 L717.10,240.20 L727.80,264.50 L737.60,291.50 L746.50,316.30 L754.90,329.60 C757.70,331.77 760.48,334.40 763.30,336.10 C766.12,337.80 768.53,338.72 771.80,339.80 C775.07,340.88 779.87,341.88 782.90,342.60 C785.93,343.32 786.83,343.60 790.00,344.10 C793.17,344.60 797.92,345.18 801.90,345.60 C805.88,346.02 809.92,346.30 813.90,346.60 C817.88,346.90 821.83,347.17 825.80,347.40 C829.77,347.63 833.67,347.80 837.70,348.00 C841.73,348.20 844.97,348.38 850.00,348.60 C855.03,348.82 861.23,349.08 867.90,349.30 C874.57,349.52 879.48,349.70 890.00,349.90 C900.52,350.10 921.00,350.38 931.00,350.50 C941.00,350.62 944.83,350.67 950.00,350.60 C955.17,350.53 957.75,350.45 962.00,350.10 C966.25,349.75 971.00,349.03 975.50,348.50" fill="none" stroke="#0000ff" stroke-width="2.4" stroke-linejoin="round" stroke-linecap="butt" clip-path="url(#cr)"/>
<path d="M536.50,118.30 L581.50,93.80 L614.50,78.70 L639.30,70.50 L659.80,67.10 L677.10,68.70 L692.10,75.00 L705.30,83.40 L717.10,98.00 L727.80,115.50 L737.60,138.30 L746.50,160.30 L754.90,183.40 L762.60,216.50 L769.80,238.00 L776.60,264.60 L783.10,301.20 L789.10,322.80 L794.90,331.40 C796.43,332.47 797.82,333.60 799.50,334.60 C801.18,335.60 803.05,336.55 805.00,337.40 C806.95,338.25 808.70,338.90 811.20,339.70 C813.70,340.50 816.58,341.40 820.00,342.20 C823.42,343.00 827.75,343.87 831.70,344.50 C835.65,345.13 840.65,345.63 843.70,346.00 C846.75,346.37 845.97,346.38 850.00,346.70 C854.03,347.02 861.93,347.53 867.90,347.90 C873.87,348.27 878.78,348.58 885.80,348.90 C892.82,349.22 900.97,349.53 910.00,349.80 C919.03,350.07 929.08,350.37 940.00,350.50 C950.92,350.63 963.67,350.57 975.50,350.60" fill="none" stroke="#000000" stroke-width="2.4" stroke-linejoin="round" stroke-linecap="butt" clip-path="url(#cr)"/>
<path d="M536.50,360.30 L582.00,355.00 C592.67,354.70 602.67,354.30 614.00,354.10 C625.33,353.90 635.67,353.87 650.00,353.80 C664.33,353.73 683.33,353.72 700.00,353.70 C716.67,353.68 731.50,353.58 750.00,353.70 C768.50,353.82 792.67,354.10 811.00,354.40 C829.33,354.70 841.83,355.07 860.00,355.50 C878.17,355.93 900.75,356.52 920.00,357.00 C939.25,357.48 957.00,357.93 975.50,358.40" fill="none" stroke="#ff0000" stroke-width="2.4" stroke-linejoin="round" stroke-linecap="butt" stroke-dasharray="8 8.2" stroke-dashoffset="0.0" clip-path="url(#cr)"/>
<path d="M536.50,363.30 C554.33,363.23 578.58,363.28 590.00,363.10 C601.42,362.92 600.00,362.50 605.00,362.20 C610.00,361.90 614.67,361.62 620.00,361.30 C625.33,360.98 631.33,360.65 637.00,360.30 C642.67,359.95 648.50,359.60 654.00,359.20 C659.50,358.80 664.67,358.20 670.00,357.90 C675.33,357.60 679.33,357.47 686.00,357.40 C692.67,357.33 697.67,357.42 710.00,357.50 C722.33,357.58 741.67,357.78 760.00,357.90 C778.33,358.02 800.00,358.02 820.00,358.20 C840.00,358.38 854.08,358.60 880.00,359.00 C905.92,359.40 943.67,360.07 975.50,360.60" fill="none" stroke="#0000ff" stroke-width="2.4" stroke-linejoin="round" stroke-linecap="butt" stroke-dasharray="8 8.2" stroke-dashoffset="0.0" clip-path="url(#cr)"/>
<path d="M536.50,366.80 C557.67,366.73 586.08,366.73 600.00,366.60 C613.92,366.47 613.83,366.20 620.00,366.00 C626.17,365.80 631.33,365.60 637.00,365.40 C642.67,365.20 648.50,365.08 654.00,364.80 C659.50,364.52 664.67,364.03 670.00,363.70 C675.33,363.37 680.67,363.08 686.00,362.80 C691.33,362.52 696.67,362.32 702.00,362.00 C707.33,361.68 708.33,361.08 718.00,360.90 C727.67,360.72 743.00,360.88 760.00,360.90 C777.00,360.92 800.00,360.90 820.00,361.00 C840.00,361.10 854.08,361.20 880.00,361.50 C905.92,361.80 943.67,362.37 975.50,362.80" fill="none" stroke="#000000" stroke-width="2.4" stroke-linejoin="round" stroke-linecap="butt" stroke-dasharray="8 8.2" stroke-dashoffset="0.0" clip-path="url(#cr)"/>
<rect x="41.0" y="54.5" width="434.5" height="324.5" fill="none" stroke="#262626" stroke-width="0.6"/>
<rect x="536.5" y="50.5" width="439.0" height="328.0" fill="none" stroke="#262626" stroke-width="0.6"/>
<text x="27.62" y="384.90" font-family="Liberation Sans, sans-serif" font-size="14" fill="#262626" stroke="#fff" stroke-width="0.3">0</text>
<text x="15.94" y="320.00" font-family="Liberation Sans, sans-serif" font-size="14" fill="#262626" stroke="#fff" stroke-width="0.3">0.5</text>
<path d="M30.82,255.10 L31.87,255.10 L31.87,245.50 L31.12,245.50 L30.82,246.20 L30.12,246.90 L28.62,247.30 L28.62,248.20 L30.82,248.10Z" fill="#262626"/>
<path d="M19.14,190.20 L20.19,190.20 L20.19,180.60 L19.44,180.60 L19.14,181.30 L18.44,182.00 L16.94,182.40 L16.94,183.30 L19.14,183.20Z" fill="#262626"/>
<text x="23.72" y="190.20" font-family="Liberation Sans, sans-serif" font-size="14" fill="#262626" stroke="#fff" stroke-width="0.3">.5</text>
<text x="27.62" y="125.30" font-family="Liberation Sans, sans-serif" font-size="14" fill="#262626" stroke="#fff" stroke-width="0.3">2</text>
<text x="15.94" y="60.40" font-family="Liberation Sans, sans-serif" font-size="14" fill="#262626" stroke="#fff" stroke-width="0.3">2.5</text>
<text x="522.72" y="383.80" font-family="Liberation Sans, sans-serif" font-size="14" fill="#262626" stroke="#fff" stroke-width="0.3">0</text>
<text x="522.72" y="329.13" font-family="Liberation Sans, sans-serif" font-size="14" fill="#262626" stroke="#fff" stroke-width="0.3">2</text>
<text x="522.72" y="274.47" font-family="Liberation Sans, sans-serif" font-size="14" fill="#262626" stroke="#fff" stroke-width="0.3">4</text>
<text x="522.72" y="219.80" font-family="Liberation Sans, sans-serif" font-size="14" fill="#262626" stroke="#fff" stroke-width="0.3">6</text>
<text x="522.72" y="165.13" font-family="Liberation Sans, sans-serif" font-size="14" fill="#262626" stroke="#fff" stroke-width="0.3">8</text>
<path d="M518.13,110.47 L519.18,110.47 L519.18,100.87 L518.43,100.87 L518.13,101.57 L517.43,102.27 L515.93,102.67 L515.93,103.57 L518.13,103.47Z" fill="#262626"/>
<text x="522.72" y="110.47" font-family="Liberation Sans, sans-serif" font-size="14" fill="#262626" stroke="#fff" stroke-width="0.3">0</text>
<path d="M518.13,55.80 L519.18,55.80 L519.18,46.20 L518.43,46.20 L518.13,46.90 L517.43,47.60 L515.93,48.00 L515.93,48.90 L518.13,48.80Z" fill="#262626"/>
<text x="522.72" y="55.80" font-family="Liberation Sans, sans-serif" font-size="14" fill="#262626" stroke="#fff" stroke-width="0.3">2</text>
<text x="31.27" y="398.60" font-family="Liberation Sans, sans-serif" font-size="14" fill="#262626" stroke="#fff" stroke-width="0.3">0.</text>
<path d="M46.15,398.60 L47.20,398.60 L47.20,389.00 L46.45,389.00 L46.15,389.70 L45.45,390.40 L43.95,390.80 L43.95,391.70 L46.15,391.60Z" fill="#262626"/>
<text x="526.77" y="398.30" font-family="Liberation Sans, sans-serif" font-size="14" fill="#262626" stroke="#fff" stroke-width="0.3">0.</text>
<path d="M541.65,398.30 L542.70,398.30 L542.70,388.70 L541.95,388.70 L541.65,389.40 L540.95,390.10 L539.45,390.50 L539.45,391.40 L541.65,391.30Z" fill="#262626"/>
<path d="M296.05,398.60 L297.10,398.60 L297.10,389.00 L296.35,389.00 L296.05,389.70 L295.35,390.40 L293.85,390.80 L293.85,391.70 L296.05,391.60Z" fill="#262626"/>
<path d="M794.20,398.30 L795.25,398.30 L795.25,388.70 L794.50,388.70 L794.20,389.40 L793.50,390.10 L792.00,390.50 L792.00,391.40 L794.20,391.30Z" fill="#262626"/>
<text x="369.84" y="398.60" font-family="Liberation Sans, sans-serif" font-size="14" fill="#262626" stroke="#fff" stroke-width="0.3">2</text>
<text x="868.78" y="398.30" font-family="Liberation Sans, sans-serif" font-size="14" fill="#262626" stroke="#fff" stroke-width="0.3">2</text>
<text x="414.87" y="398.60" font-family="Liberation Sans, sans-serif" font-size="14" fill="#262626" stroke="#fff" stroke-width="0.3">3</text>
<text x="914.28" y="398.30" font-family="Liberation Sans, sans-serif" font-size="14" fill="#262626" stroke="#fff" stroke-width="0.3">3</text>
<text x="446.82" y="398.60" font-family="Liberation Sans, sans-serif" font-size="14" fill="#262626" stroke="#fff" stroke-width="0.3">4</text>
<text x="946.57" y="398.30" font-family="Liberation Sans, sans-serif" font-size="14" fill="#262626" stroke="#fff" stroke-width="0.3">4</text>
<text x="471.61" y="398.60" font-family="Liberation Sans, sans-serif" font-size="14" fill="#262626" stroke="#fff" stroke-width="0.3">5</text>
<text x="971.61" y="398.30" font-family="Liberation Sans, sans-serif" font-size="14" fill="#262626" stroke="#fff" stroke-width="0.3">5</text>
<path d="M201.95,21.53 L201.53,23.02 L201.11,24.52 L200.69,26.01 L200.28,27.51 L199.86,29.00 L199.44,30.50 L199.03,31.99 L198.62,33.49 L198.20,34.99 L197.79,36.48 L197.39,37.98 L196.98,39.47 L198.72,39.93 L199.09,38.42 L199.46,36.92 L199.84,35.41 L200.21,33.91 L200.59,32.41 L200.97,30.90 L201.35,29.40 L201.73,27.89 L202.11,26.39 L202.49,24.88 L202.87,23.38 L203.25,21.87Z" fill="#000"/>
<path d="M199.70,21.20 L203.60,21.20 L203.40,22.30 L199.90,22.00Z" fill="#000"/>
<path d="M201.18,31.34 L201.50,30.95 L201.83,30.60 L202.18,30.29 L202.54,30.01 L202.90,29.77 L203.27,29.57 L203.65,29.40 L204.02,29.26 L204.40,29.16 L204.77,29.10 L205.14,29.07 L205.50,29.07 L205.88,29.11 L206.22,29.19 L206.50,29.29 L206.74,29.41 L206.92,29.55 L207.07,29.71 L207.18,29.87 L207.26,30.05 L207.31,30.25 L207.33,30.48 L207.32,30.73 L207.29,30.96 L207.23,31.04 L207.12,31.53 L206.99,32.00 L206.84,32.49 L206.66,33.01 L206.47,33.54 L206.27,34.08 L206.06,34.63 L205.86,35.18 L205.66,35.72 L205.47,36.26 L205.30,36.81 L205.20,37.24 L205.14,37.65 L205.12,38.05 L205.14,38.44 L205.20,38.81 L205.31,39.17 L205.49,39.50 L205.73,39.79 L206.02,40.02 L206.36,40.19 L206.72,40.28 L207.09,40.29 L207.46,40.25 L207.79,40.17 L208.11,40.05 L208.40,39.89 L208.66,39.69 L208.89,39.48 L209.11,39.24 L209.30,38.98 L209.47,38.71 L209.63,38.42 L209.77,38.12 L209.90,37.81 L209.50,37.59 L209.32,37.86 L209.14,38.11 L208.95,38.33 L208.75,38.52 L208.56,38.68 L208.36,38.82 L208.15,38.93 L207.95,39.01 L207.75,39.06 L207.54,39.10 L207.33,39.12 L207.11,39.11 L206.96,39.07 L206.86,39.02 L206.80,38.96 L206.75,38.88 L206.70,38.78 L206.66,38.65 L206.62,38.49 L206.58,38.29 L206.57,38.06 L206.59,37.79 L206.63,37.50 L206.70,37.19 L206.85,36.72 L207.03,36.21 L207.22,35.68 L207.42,35.14 L207.63,34.59 L207.83,34.04 L208.03,33.49 L208.21,32.94 L208.38,32.41 L208.53,31.89 L208.63,31.44 L208.71,31.24 L208.73,30.74 L208.69,30.31 L208.59,29.90 L208.42,29.52 L208.20,29.17 L207.93,28.87 L207.61,28.62 L207.25,28.42 L206.86,28.27 L206.43,28.18 L205.98,28.13 L205.50,28.13 L205.06,28.17 L204.62,28.25 L204.18,28.37 L203.75,28.53 L203.34,28.73 L202.93,28.96 L202.53,29.23 L202.15,29.53 L201.79,29.86 L201.44,30.23 L201.12,30.64 L200.82,31.06Z" fill="#000"/>
<text transform="translate(210.93,44.20) scale(1.2065,1)" x="0" y="0" font-size="19.32" font-family="Liberation Serif, serif" font-style="italic" fill="#000" stroke="#fff" stroke-width="0.35">min</text>
<text transform="translate(248.03,40.06) scale(0.6490,1)" x="0" y="0" font-size="31.84" font-family="Liberation Serif, serif" fill="#000" stroke="#fff" stroke-width="0.35">,</text>
<path d="M273.35,21.53 L272.93,23.02 L272.51,24.52 L272.09,26.01 L271.68,27.51 L271.26,29.00 L270.84,30.50 L270.43,31.99 L270.02,33.49 L269.60,34.99 L269.19,36.48 L268.79,37.98 L268.38,39.47 L270.12,39.93 L270.49,38.42 L270.86,36.92 L271.24,35.41 L271.61,33.91 L271.99,32.41 L272.37,30.90 L272.75,29.40 L273.13,27.89 L273.51,26.39 L273.89,24.88 L274.27,23.38 L274.65,21.87Z" fill="#000"/>
<path d="M271.10,21.20 L275.00,21.20 L274.80,22.30 L271.30,22.00Z" fill="#000"/>
<path d="M272.58,31.34 L272.90,30.95 L273.23,30.60 L273.58,30.29 L273.94,30.01 L274.30,29.77 L274.67,29.57 L275.05,29.40 L275.42,29.26 L275.80,29.16 L276.17,29.10 L276.54,29.07 L276.90,29.07 L277.28,29.11 L277.62,29.19 L277.90,29.29 L278.14,29.41 L278.32,29.55 L278.47,29.71 L278.58,29.87 L278.66,30.05 L278.71,30.25 L278.73,30.48 L278.72,30.73 L278.69,30.96 L278.63,31.04 L278.52,31.53 L278.39,32.00 L278.24,32.49 L278.06,33.01 L277.87,33.54 L277.67,34.08 L277.46,34.63 L277.26,35.18 L277.06,35.72 L276.87,36.26 L276.70,36.81 L276.60,37.24 L276.54,37.65 L276.52,38.05 L276.54,38.44 L276.60,38.81 L276.71,39.17 L276.89,39.50 L277.13,39.79 L277.42,40.02 L277.76,40.19 L278.12,40.28 L278.49,40.29 L278.86,40.25 L279.19,40.17 L279.51,40.05 L279.80,39.89 L280.06,39.69 L280.29,39.48 L280.51,39.24 L280.70,38.98 L280.87,38.71 L281.03,38.42 L281.17,38.12 L281.30,37.81 L280.90,37.59 L280.72,37.86 L280.54,38.11 L280.35,38.33 L280.15,38.52 L279.96,38.68 L279.76,38.82 L279.55,38.93 L279.35,39.01 L279.15,39.06 L278.94,39.10 L278.73,39.12 L278.51,39.11 L278.36,39.07 L278.26,39.02 L278.20,38.96 L278.15,38.88 L278.10,38.78 L278.06,38.65 L278.02,38.49 L277.98,38.29 L277.97,38.06 L277.99,37.79 L278.03,37.50 L278.10,37.19 L278.25,36.72 L278.43,36.21 L278.62,35.68 L278.82,35.14 L279.03,34.59 L279.23,34.04 L279.43,33.49 L279.61,32.94 L279.78,32.41 L279.93,31.89 L280.03,31.44 L280.11,31.24 L280.13,30.74 L280.09,30.31 L279.99,29.90 L279.82,29.52 L279.60,29.17 L279.33,28.87 L279.01,28.62 L278.65,28.42 L278.26,28.27 L277.83,28.18 L277.38,28.13 L276.90,28.13 L276.46,28.17 L276.02,28.25 L275.58,28.37 L275.15,28.53 L274.74,28.73 L274.33,28.96 L273.93,29.23 L273.55,29.53 L273.19,29.86 L272.84,30.23 L272.52,30.64 L272.22,31.06Z" fill="#000"/>
<text transform="translate(282.18,44.01) scale(1.1293,1)" x="0" y="0" font-size="19.38" font-family="Liberation Serif, serif" font-style="italic" fill="#000" stroke="#fff" stroke-width="0.35">max</text>
<path d="M699.35,16.83 L698.93,18.32 L698.51,19.82 L698.09,21.31 L697.68,22.81 L697.26,24.30 L696.84,25.80 L696.43,27.29 L696.02,28.79 L695.60,30.29 L695.19,31.78 L694.79,33.28 L694.38,34.77 L696.12,35.23 L696.49,33.72 L696.86,32.22 L697.24,30.71 L697.61,29.21 L697.99,27.71 L698.37,26.20 L698.75,24.70 L699.13,23.19 L699.51,21.69 L699.89,20.18 L700.27,18.68 L700.65,17.17Z" fill="#000"/>
<path d="M697.10,16.50 L701.00,16.50 L700.80,17.60 L697.30,17.30Z" fill="#000"/>
<path d="M698.58,26.64 L698.90,26.25 L699.23,25.90 L699.58,25.59 L699.94,25.31 L700.30,25.07 L700.67,24.87 L701.05,24.70 L701.42,24.56 L701.80,24.46 L702.17,24.40 L702.54,24.37 L702.90,24.37 L703.28,24.41 L703.62,24.49 L703.90,24.59 L704.14,24.71 L704.32,24.85 L704.47,25.01 L704.58,25.17 L704.66,25.35 L704.71,25.55 L704.73,25.78 L704.72,26.03 L704.69,26.26 L704.63,26.34 L704.52,26.83 L704.39,27.30 L704.24,27.79 L704.06,28.31 L703.87,28.84 L703.67,29.38 L703.46,29.93 L703.26,30.48 L703.06,31.02 L702.87,31.56 L702.70,32.11 L702.60,32.54 L702.54,32.95 L702.52,33.35 L702.54,33.74 L702.60,34.11 L702.71,34.47 L702.89,34.80 L703.13,35.09 L703.42,35.32 L703.76,35.49 L704.12,35.58 L704.49,35.59 L704.86,35.55 L705.19,35.47 L705.51,35.35 L705.80,35.19 L706.06,34.99 L706.29,34.78 L706.51,34.54 L706.70,34.28 L706.87,34.01 L707.03,33.72 L707.17,33.42 L707.30,33.11 L706.90,32.89 L706.72,33.16 L706.54,33.41 L706.35,33.63 L706.15,33.82 L705.96,33.98 L705.76,34.12 L705.55,34.23 L705.35,34.31 L705.15,34.36 L704.94,34.40 L704.73,34.42 L704.51,34.41 L704.36,34.37 L704.26,34.32 L704.20,34.26 L704.15,34.18 L704.10,34.08 L704.06,33.95 L704.02,33.79 L703.98,33.59 L703.97,33.36 L703.99,33.09 L704.03,32.80 L704.10,32.49 L704.25,32.02 L704.43,31.51 L704.62,30.98 L704.82,30.44 L705.03,29.89 L705.23,29.34 L705.43,28.79 L705.61,28.24 L705.78,27.71 L705.93,27.19 L706.03,26.74 L706.11,26.54 L706.13,26.04 L706.09,25.61 L705.99,25.20 L705.82,24.82 L705.60,24.47 L705.33,24.17 L705.01,23.92 L704.65,23.72 L704.26,23.57 L703.83,23.48 L703.38,23.43 L702.90,23.43 L702.46,23.47 L702.02,23.55 L701.58,23.67 L701.15,23.83 L700.74,24.03 L700.33,24.26 L699.93,24.53 L699.55,24.83 L699.19,25.16 L698.84,25.53 L698.52,25.94 L698.22,26.36Z" fill="#000"/>
<text transform="translate(708.33,39.50) scale(1.2065,1)" x="0" y="0" font-size="19.32" font-family="Liberation Serif, serif" font-style="italic" fill="#000" stroke="#fff" stroke-width="0.35">min</text>
<text transform="translate(745.43,35.36) scale(0.6490,1)" x="0" y="0" font-size="31.84" font-family="Liberation Serif, serif" fill="#000" stroke="#fff" stroke-width="0.35">,</text>
<path d="M770.75,16.83 L770.33,18.32 L769.91,19.82 L769.49,21.31 L769.08,22.81 L768.66,24.30 L768.24,25.80 L767.83,27.29 L767.42,28.79 L767.00,30.29 L766.59,31.78 L766.19,33.28 L765.78,34.77 L767.52,35.23 L767.89,33.72 L768.26,32.22 L768.64,30.71 L769.01,29.21 L769.39,27.71 L769.77,26.20 L770.15,24.70 L770.53,23.19 L770.91,21.69 L771.29,20.18 L771.67,18.68 L772.05,17.17Z" fill="#000"/>
<path d="M768.50,16.50 L772.40,16.50 L772.20,17.60 L768.70,17.30Z" fill="#000"/>
<path d="M769.98,26.64 L770.30,26.25 L770.63,25.90 L770.98,25.59 L771.34,25.31 L771.70,25.07 L772.07,24.87 L772.45,24.70 L772.82,24.56 L773.20,24.46 L773.57,24.40 L773.94,24.37 L774.30,24.37 L774.68,24.41 L775.02,24.49 L775.30,24.59 L775.54,24.71 L775.72,24.85 L775.87,25.01 L775.98,25.17 L776.06,25.35 L776.11,25.55 L776.13,25.78 L776.12,26.03 L776.09,26.26 L776.03,26.34 L775.92,26.83 L775.79,27.30 L775.64,27.79 L775.46,28.31 L775.27,28.84 L775.07,29.38 L774.86,29.93 L774.66,30.48 L774.46,31.02 L774.27,31.56 L774.10,32.11 L774.00,32.54 L773.94,32.95 L773.92,33.35 L773.94,33.74 L774.00,34.11 L774.11,34.47 L774.29,34.80 L774.53,35.09 L774.82,35.32 L775.16,35.49 L775.52,35.58 L775.89,35.59 L776.26,35.55 L776.59,35.47 L776.91,35.35 L777.20,35.19 L777.46,34.99 L777.69,34.78 L777.91,34.54 L778.10,34.28 L778.27,34.01 L778.43,33.72 L778.57,33.42 L778.70,33.11 L778.30,32.89 L778.12,33.16 L777.94,33.41 L777.75,33.63 L777.55,33.82 L777.36,33.98 L777.16,34.12 L776.95,34.23 L776.75,34.31 L776.55,34.36 L776.34,34.40 L776.13,34.42 L775.91,34.41 L775.76,34.37 L775.66,34.32 L775.60,34.26 L775.55,34.18 L775.50,34.08 L775.46,33.95 L775.42,33.79 L775.38,33.59 L775.37,33.36 L775.39,33.09 L775.43,32.80 L775.50,32.49 L775.65,32.02 L775.83,31.51 L776.02,30.98 L776.22,30.44 L776.43,29.89 L776.63,29.34 L776.83,28.79 L777.01,28.24 L777.18,27.71 L777.33,27.19 L777.43,26.74 L777.51,26.54 L777.53,26.04 L777.49,25.61 L777.39,25.20 L777.22,24.82 L777.00,24.47 L776.73,24.17 L776.41,23.92 L776.05,23.72 L775.66,23.57 L775.23,23.48 L774.78,23.43 L774.30,23.43 L773.86,23.47 L773.42,23.55 L772.98,23.67 L772.55,23.83 L772.14,24.03 L771.73,24.26 L771.33,24.53 L770.95,24.83 L770.59,25.16 L770.24,25.53 L769.92,25.94 L769.62,26.36Z" fill="#000"/>
<text transform="translate(779.58,39.31) scale(1.1293,1)" x="0" y="0" font-size="19.38" font-family="Liberation Serif, serif" font-style="italic" fill="#000" stroke="#fff" stroke-width="0.35">max</text>
<path d="M251.83,423.39 L252.06,423.08 L252.25,422.77 L252.44,422.47 L252.64,422.19 L252.84,421.93 L253.03,421.68 L253.23,421.45 L253.44,421.23 L253.64,421.03 L253.84,420.85 L254.05,420.68 L254.26,420.52 L254.47,420.38 L254.67,420.26 L254.88,420.14 L255.09,420.05 L255.30,419.96 L255.52,419.88 L255.73,419.82 L255.95,419.77 L256.17,419.73 L256.40,419.71 L256.63,419.69 L256.86,419.69 L257.12,419.70 L257.35,419.73 L257.58,419.77 L257.80,419.83 L258.02,419.90 L258.23,419.99 L258.44,420.11 L258.64,420.24 L258.85,420.39 L259.05,420.56 L259.26,420.76 L259.46,420.98 L259.66,421.23 L259.85,421.50 L260.05,421.80 L260.24,422.12 L260.44,422.46 L260.64,422.83 L260.77,423.24 L260.88,423.68 L260.99,424.13 L261.09,424.61 L261.17,425.11 L261.25,425.64 L261.75,425.56 L261.67,425.03 L261.58,424.52 L261.48,424.03 L261.37,423.56 L261.25,423.11 L261.12,422.68 L261.05,422.24 L260.95,421.83 L260.83,421.43 L260.69,421.06 L260.54,420.70 L260.37,420.37 L260.18,420.05 L259.97,419.75 L259.74,419.47 L259.50,419.22 L259.23,418.98 L258.95,418.77 L258.65,418.59 L258.33,418.44 L258.00,418.31 L257.65,418.21 L257.30,418.15 L256.94,418.11 L256.60,418.10 L256.27,418.11 L255.94,418.15 L255.62,418.21 L255.30,418.29 L255.00,418.39 L254.69,418.51 L254.40,418.66 L254.12,418.82 L253.85,419.01 L253.59,419.21 L253.34,419.43 L253.11,419.66 L252.88,419.91 L252.67,420.18 L252.47,420.46 L252.28,420.76 L252.10,421.07 L251.94,421.39 L251.79,421.73 L251.65,422.07 L251.53,422.44 L251.43,422.81 L251.37,423.21Z" fill="#000"/>
<path d="M260.65,425.37 L260.64,425.79 L260.62,426.20 L260.60,426.61 L260.58,427.03 L260.55,427.45 L260.52,427.87 L260.48,428.29 L260.43,428.71 L260.39,429.13 L260.34,429.55 L260.28,429.97 L260.22,430.40 L260.16,430.82 L260.09,431.24 L260.03,431.66 L259.95,432.08 L259.88,432.50 L259.81,432.92 L259.73,433.33 L259.65,433.75 L259.57,434.16 L259.48,434.58 L259.40,434.98 L259.31,435.39 L260.09,435.61 L260.22,435.21 L260.36,434.81 L260.50,434.41 L260.63,434.00 L260.76,433.59 L260.89,433.18 L261.01,432.77 L261.13,432.35 L261.25,431.93 L261.37,431.51 L261.47,431.08 L261.58,430.65 L261.68,430.23 L261.77,429.80 L261.86,429.36 L261.94,428.93 L262.02,428.49 L262.09,428.06 L262.15,427.62 L262.21,427.18 L262.26,426.74 L262.30,426.30 L262.33,425.86 L262.35,425.43Z" fill="#000"/>
<line x1="265.80" y1="418.40" x2="261.30" y2="426.20" stroke="#000" stroke-width="0.75" stroke-linecap="round"/>
<path d="M749.53,423.39 L749.76,423.08 L749.95,422.77 L750.14,422.47 L750.34,422.19 L750.54,421.93 L750.73,421.68 L750.93,421.45 L751.14,421.23 L751.34,421.03 L751.54,420.85 L751.75,420.68 L751.96,420.52 L752.17,420.38 L752.37,420.26 L752.58,420.14 L752.79,420.05 L753.00,419.96 L753.22,419.88 L753.43,419.82 L753.65,419.77 L753.87,419.73 L754.10,419.71 L754.33,419.69 L754.56,419.69 L754.82,419.70 L755.05,419.73 L755.28,419.77 L755.50,419.83 L755.72,419.90 L755.93,419.99 L756.14,420.11 L756.34,420.24 L756.55,420.39 L756.75,420.56 L756.96,420.76 L757.16,420.98 L757.36,421.23 L757.55,421.50 L757.75,421.80 L757.94,422.12 L758.14,422.46 L758.34,422.83 L758.47,423.24 L758.58,423.68 L758.69,424.13 L758.79,424.61 L758.87,425.11 L758.95,425.64 L759.45,425.56 L759.37,425.03 L759.28,424.52 L759.18,424.03 L759.07,423.56 L758.95,423.11 L758.82,422.68 L758.75,422.24 L758.65,421.83 L758.53,421.43 L758.39,421.06 L758.24,420.70 L758.07,420.37 L757.88,420.05 L757.67,419.75 L757.44,419.47 L757.20,419.22 L756.93,418.98 L756.65,418.77 L756.35,418.59 L756.03,418.44 L755.70,418.31 L755.35,418.21 L755.00,418.15 L754.64,418.11 L754.30,418.10 L753.97,418.11 L753.64,418.15 L753.32,418.21 L753.00,418.29 L752.70,418.39 L752.39,418.51 L752.10,418.66 L751.82,418.82 L751.55,419.01 L751.29,419.21 L751.04,419.43 L750.81,419.66 L750.58,419.91 L750.37,420.18 L750.17,420.46 L749.98,420.76 L749.80,421.07 L749.64,421.39 L749.49,421.73 L749.35,422.07 L749.23,422.44 L749.13,422.81 L749.07,423.21Z" fill="#000"/>
<path d="M758.35,425.37 L758.34,425.79 L758.32,426.20 L758.30,426.61 L758.28,427.03 L758.25,427.45 L758.22,427.87 L758.18,428.29 L758.13,428.71 L758.09,429.13 L758.04,429.55 L757.98,429.97 L757.92,430.40 L757.86,430.82 L757.79,431.24 L757.73,431.66 L757.65,432.08 L757.58,432.50 L757.51,432.92 L757.43,433.33 L757.35,433.75 L757.27,434.16 L757.18,434.58 L757.10,434.98 L757.01,435.39 L757.79,435.61 L757.92,435.21 L758.06,434.81 L758.20,434.41 L758.33,434.00 L758.46,433.59 L758.59,433.18 L758.71,432.77 L758.83,432.35 L758.95,431.93 L759.07,431.51 L759.17,431.08 L759.28,430.65 L759.38,430.23 L759.47,429.80 L759.56,429.36 L759.64,428.93 L759.72,428.49 L759.79,428.06 L759.85,427.62 L759.91,427.18 L759.96,426.74 L760.00,426.30 L760.03,425.86 L760.05,425.43Z" fill="#000"/>
<line x1="763.50" y1="418.40" x2="759.00" y2="426.20" stroke="#000" stroke-width="0.75" stroke-linecap="round"/>
<rect x="180.5" y="65.5" width="156.0" height="81.0" fill="#fff" stroke="#262626" stroke-width="0.5"/>
<line x1="184.4" y1="80" x2="223.7" y2="80" stroke="#ff0000" stroke-width="2.4"/>
<text transform="translate(227.94,85.45) scale(1.1809,1)" x="0" y="0" font-size="21.90" font-family="Liberation Serif, serif" font-style="italic" fill="#000" stroke="#fff" stroke-width="0.5">B</text>
<text transform="translate(244.79,85.40) scale(1.0335,1)" x="0" y="0" font-size="19.79" font-family="Liberation Serif, serif" font-style="italic" fill="#000" stroke="#fff" stroke-width="0.5">o</text>
<text transform="translate(260.07,87.36) scale(1.3881,1)" x="0" y="0" font-size="22.00" font-family="Liberation Serif, serif" fill="#000" stroke="#fff" stroke-width="0.5">=</text>
<text transform="translate(283.19,85.18) scale(1.0236,1)" x="0" y="0" font-size="21.03" font-family="Liberation Serif, serif" fill="#000" stroke="#fff" stroke-width="0.5">0.05</text>
<line x1="184.4" y1="106" x2="223.7" y2="106" stroke="#0000ff" stroke-width="2.4"/>
<text transform="translate(227.94,111.45) scale(1.1809,1)" x="0" y="0" font-size="21.90" font-family="Liberation Serif, serif" font-style="italic" fill="#000" stroke="#fff" stroke-width="0.5">B</text>
<text transform="translate(244.79,111.40) scale(1.0335,1)" x="0" y="0" font-size="19.79" font-family="Liberation Serif, serif" font-style="italic" fill="#000" stroke="#fff" stroke-width="0.5">o</text>
<text transform="translate(260.07,113.36) scale(1.3881,1)" x="0" y="0" font-size="22.00" font-family="Liberation Serif, serif" fill="#000" stroke="#fff" stroke-width="0.5">=</text>
<text transform="translate(283.19,111.18) scale(1.0273,1)" x="0" y="0" font-size="21.03" font-family="Liberation Serif, serif" fill="#000" stroke="#fff" stroke-width="0.5">0.01</text>
<line x1="184.4" y1="131.6" x2="223.7" y2="131.6" stroke="#000000" stroke-width="2.4"/>
<text transform="translate(227.94,137.25) scale(1.1809,1)" x="0" y="0" font-size="21.90" font-family="Liberation Serif, serif" font-style="italic" fill="#000" stroke="#fff" stroke-width="0.5">B</text>
<text transform="translate(244.79,137.20) scale(1.0335,1)" x="0" y="0" font-size="19.79" font-family="Liberation Serif, serif" font-style="italic" fill="#000" stroke="#fff" stroke-width="0.5">o</text>
<text transform="translate(260.07,139.17) scale(1.3881,1)" x="0" y="0" font-size="22.00" font-family="Liberation Serif, serif" fill="#000" stroke="#fff" stroke-width="0.5">=</text>
<text transform="translate(283.20,136.98) scale(1.0134,1)" x="0" y="0" font-size="21.03" font-family="Liberation Serif, serif" fill="#000" stroke="#fff" stroke-width="0.5">0.005</text>
<rect x="807.5" y="61.5" width="157.0" height="82.0" fill="#fff" stroke="#262626" stroke-width="0.5"/>
<line x1="812" y1="76" x2="851.8" y2="76" stroke="#ff0000" stroke-width="2.4"/>
<text transform="translate(855.94,81.74) scale(1.1809,1)" x="0" y="0" font-size="22.12" font-family="Liberation Serif, serif" font-style="italic" fill="#000" stroke="#fff" stroke-width="0.5">B</text>
<text transform="translate(872.95,81.70) scale(1.0336,1)" x="0" y="0" font-size="19.99" font-family="Liberation Serif, serif" font-style="italic" fill="#000" stroke="#fff" stroke-width="0.5">o</text>
<text transform="translate(888.06,83.68) scale(1.3881,1)" x="0" y="0" font-size="22.22" font-family="Liberation Serif, serif" fill="#000" stroke="#fff" stroke-width="0.5">=</text>
<text transform="translate(911.19,81.48) scale(1.0219,1)" x="0" y="0" font-size="21.24" font-family="Liberation Serif, serif" fill="#000" stroke="#fff" stroke-width="0.5">0.05</text>
<line x1="812" y1="101.8" x2="851.8" y2="101.8" stroke="#0000ff" stroke-width="2.4"/>
<text transform="translate(855.94,107.64) scale(1.1809,1)" x="0" y="0" font-size="22.12" font-family="Liberation Serif, serif" font-style="italic" fill="#000" stroke="#fff" stroke-width="0.5">B</text>
<text transform="translate(872.95,107.60) scale(1.0336,1)" x="0" y="0" font-size="19.99" font-family="Liberation Serif, serif" font-style="italic" fill="#000" stroke="#fff" stroke-width="0.5">o</text>
<text transform="translate(888.06,109.58) scale(1.3881,1)" x="0" y="0" font-size="22.22" font-family="Liberation Serif, serif" fill="#000" stroke="#fff" stroke-width="0.5">=</text>
<text transform="translate(911.18,107.38) scale(1.0257,1)" x="0" y="0" font-size="21.24" font-family="Liberation Serif, serif" fill="#000" stroke="#fff" stroke-width="0.5">0.01</text>
<line x1="812" y1="128.3" x2="851.8" y2="128.3" stroke="#000000" stroke-width="2.4"/>
<text transform="translate(855.94,133.64) scale(1.1809,1)" x="0" y="0" font-size="22.12" font-family="Liberation Serif, serif" font-style="italic" fill="#000" stroke="#fff" stroke-width="0.5">B</text>
<text transform="translate(872.95,133.60) scale(1.0336,1)" x="0" y="0" font-size="19.99" font-family="Liberation Serif, serif" font-style="italic" fill="#000" stroke="#fff" stroke-width="0.5">o</text>
<text transform="translate(888.06,135.58) scale(1.3881,1)" x="0" y="0" font-size="22.22" font-family="Liberation Serif, serif" fill="#000" stroke="#fff" stroke-width="0.5">=</text>
<text transform="translate(911.20,133.38) scale(1.0099,1)" x="0" y="0" font-size="21.24" font-family="Liberation Serif, serif" fill="#000" stroke="#fff" stroke-width="0.5">0.005</text>
</svg>
</body></html>
